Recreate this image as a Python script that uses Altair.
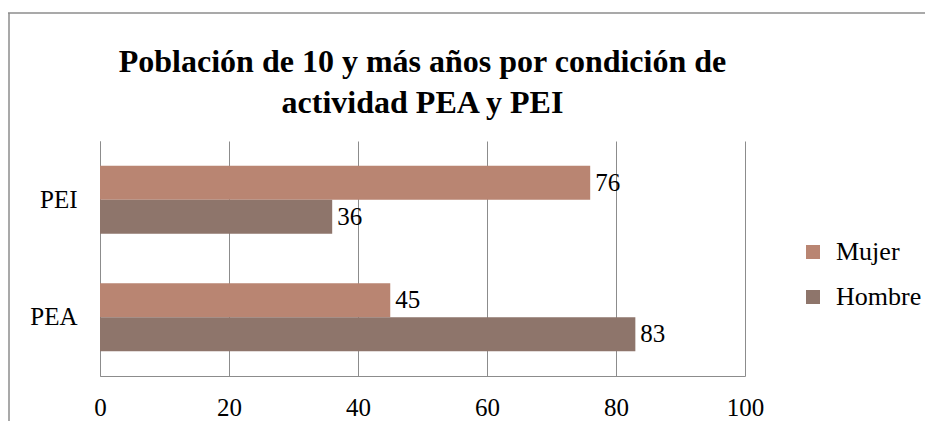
import altair as alt
import pandas as pd

categories = ["PEI", "PEI", "PEA", "PEA"]
sexes = ["Mujer", "Hombre", "Mujer", "Hombre"]
values = [76, 36, 45, 83]

series_order = ["Mujer", "Hombre"]
series_colors = ["#B98572", "#8E756B"]
cat_order = ["PEI", "PEA"]
x_ticks = [0, 20, 40, 60, 80, 100]
title_lines = ["Población de 10 y más años por condición de", "actividad PEA y PEI"]

df = pd.DataFrame({"cat": categories, "sexo": sexes, "valor": values})

FONT = "Liberation Serif"

y_enc = alt.Y("cat:N", sort=cat_order, title=None,
              scale=alt.Scale(paddingInner=0.42, paddingOuter=0.21),
              axis=alt.Axis(labelFontSize=25, labelFont=FONT, labelColor="#000000",
                            labelPadding=23, ticks=False, domain=True,
                            domainColor="#8c8c8c", grid=False))
x_enc = alt.X("valor:Q", title=None,
              scale=alt.Scale(domain=[0, 100], nice=False),
              axis=alt.Axis(values=x_ticks, labelFontSize=25, labelFont=FONT,
                            labelColor="#000000", labelPadding=19, ticks=False,
                            domainColor="#8c8c8c", grid=True, gridColor="#8c8c8c",
                            labelFlush=False))
color_enc = alt.Color("sexo:N",
                      scale=alt.Scale(domain=series_order, range=series_colors),
                      legend=alt.Legend(title=None, orient="none", legendX=700, legendY=98,
                                        labelFontSize=26, labelFont=FONT, labelColor="#000000",
                                        symbolType="square", symbolSize=196,
                                        symbolStrokeWidth=0, rowPadding=19, labelOffset=10))
yoff = alt.YOffset("sexo:N", sort=series_order,
                   scale=alt.Scale(domain=series_order, paddingInner=0, paddingOuter=0))

base = alt.Chart(df)
bars = base.mark_bar(opacity=1).encode(y=y_enc, x=x_enc, color=color_enc, yOffset=yoff)
labels = base.mark_text(align="left", baseline="middle", dx=5, fontSize=25,
                        font=FONT, color="#000000").encode(
    y=alt.Y("cat:N", sort=cat_order), x="valor:Q", yOffset=yoff, text="valor:Q")

border_df = pd.DataFrame({"b": [0]})
top_line = alt.Chart(border_df).mark_rule(color="#8c8c8c", strokeWidth=1.5).encode(
    x=alt.value(-92), x2=alt.value(825), y=alt.value(-128))
left_line = alt.Chart(border_df).mark_rule(color="#8c8c8c", strokeWidth=1.5).encode(
    x=alt.value(-91), y=alt.value(-128), y2=alt.value(300))

chart = alt.layer(bars, labels, top_line, left_line).properties(
    width=645, height=235,
    autosize=alt.AutoSizeParams(type="none"),
    padding={"left": 92, "top": 133, "right": 180, "bottom": 45},
    background="#ffffff",
    title=alt.Title(title_lines,
                    font=FONT, fontSize=32, fontWeight="bold", color="#000000",
                    anchor="middle", offset=-108, lineHeight=41),
).configure_view(stroke=None)

chart.save("out.html", embed_options={"renderer": "svg", "actions": False})
